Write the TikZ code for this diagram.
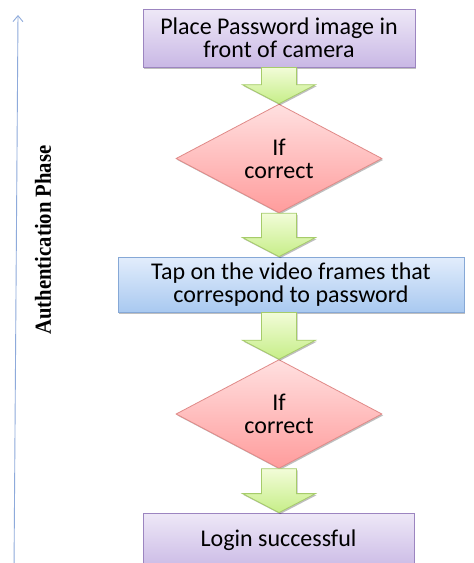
\documentclass[tikz,border=0pt]{standalone}
\usepackage{fontspec}
\setmainfont{Carlito}
\newfontfamily\labelfont{Liberation Serif}
\usetikzlibrary{shapes.geometric,arrows.meta,shadows,calc}
\definecolor{purtop}{HTML}{EEE8F7}
\definecolor{purbot}{HTML}{C9B8E5}
\definecolor{purdraw}{HTML}{9C85C0}
\definecolor{redtop}{HTML}{FFE0E0}
\definecolor{redbot}{HTML}{FF9C9C}
\definecolor{reddraw}{HTML}{E08A88}
\definecolor{grtop}{HTML}{F2FCD8}
\definecolor{grbot}{HTML}{C6EE88}
\definecolor{grdraw}{HTML}{A6CC6A}
\definecolor{bltop}{HTML}{E2EDFC}
\definecolor{blbot}{HTML}{A9C9F0}
\definecolor{bldraw}{HTML}{86A8D6}
\definecolor{axiscol}{HTML}{8EAADB}
\tikzset{
  shad/.style={drop shadow={shadow xshift=1.2pt,shadow yshift=-1.5pt,fill=black,opacity=0.25}},
  purbox/.style={rectangle, draw=purdraw, line width=0.8pt, top color=purtop, bottom color=purbot, shad,
     align=center, font=\fontsize{24}{23}\selectfont, inner sep=0pt},
  bluebox/.style={rectangle, draw=bldraw, line width=0.8pt, top color=bltop, bottom color=blbot, shad,
     align=center, font=\fontsize{24}{23}\selectfont, inner sep=0pt},
  decision/.style={diamond, draw=reddraw, line width=0.8pt, top color=redtop, bottom color=redbot, shad,
     align=center, font=\fontsize{24}{23}\selectfont, inner sep=0pt, minimum width=206pt, minimum height=107pt},
  garrowstyle/.style={draw=grdraw, line width=0.8pt, top color=grtop, bottom color=grbot, shad},
}
% block arrow from node #1 to node #2, horizontally at x of node #3
\newcommand\garrow[3]{%
  \path[garrowstyle] let \p1=(#1.south), \p2=(#2.north), \p3=(#3.center) in
    (\x3-17.5pt,\y1) -- (\x3+17.5pt,\y1) -- (\x3+17.5pt,\y2+19pt) -- (\x3+36.5pt,\y2+19pt)
    -- (\x3,\y2) -- (\x3-36.5pt,\y2+19pt) -- (\x3-17.5pt,\y2+19pt) -- cycle;}
\begin{document}
\begin{tikzpicture}[x=1pt,y=-1pt]
\useasboundingbox (0,0) rectangle (474,563);
\clip (0,0) rectangle (474,563);
\fill[white] (0,0) rectangle (474,563);

% axis
\coordinate (axb) at (14,570);
\coordinate (axt) at (18,15);
\draw[axiscol, line width=0.9pt, -{Straight Barb[length=6pt,width=10pt]}] (axb) -- (axt);
\node[rotate=90, font=\labelfont\bfseries\fontsize{23}{23}\selectfont] (phase) at (43,240) {\scalebox{0.9}[1]{Authentication Phase}};

% nodes
\node[purbox, minimum width=272pt, minimum height=58pt] (b1) at (279,38) {Place Password image in\\front of camera};
\node[decision] (d1) at (279,158.5) {If\\correct};
\node[bluebox, minimum width=346pt, minimum height=55pt] (b2) at (291,284.5) {Tap on the video frames that\\correspond to password};
\node[decision, minimum height=108pt] (d2) at (279,414) {If\\correct};
\node[purbox, minimum width=271pt, minimum height=58pt] (b3) at (278.5,542) {};
\node[font=\fontsize{24}{23}\selectfont] (t3) at (278.5,540) {Login successful};

% connectors (block arrows)
\garrow{b1}{d1}{d1}
\garrow{d1}{b2}{d1}
\garrow{b2}{d2}{d2}
\garrow{d2}{b3}{d2}
\end{tikzpicture}
\end{document}
